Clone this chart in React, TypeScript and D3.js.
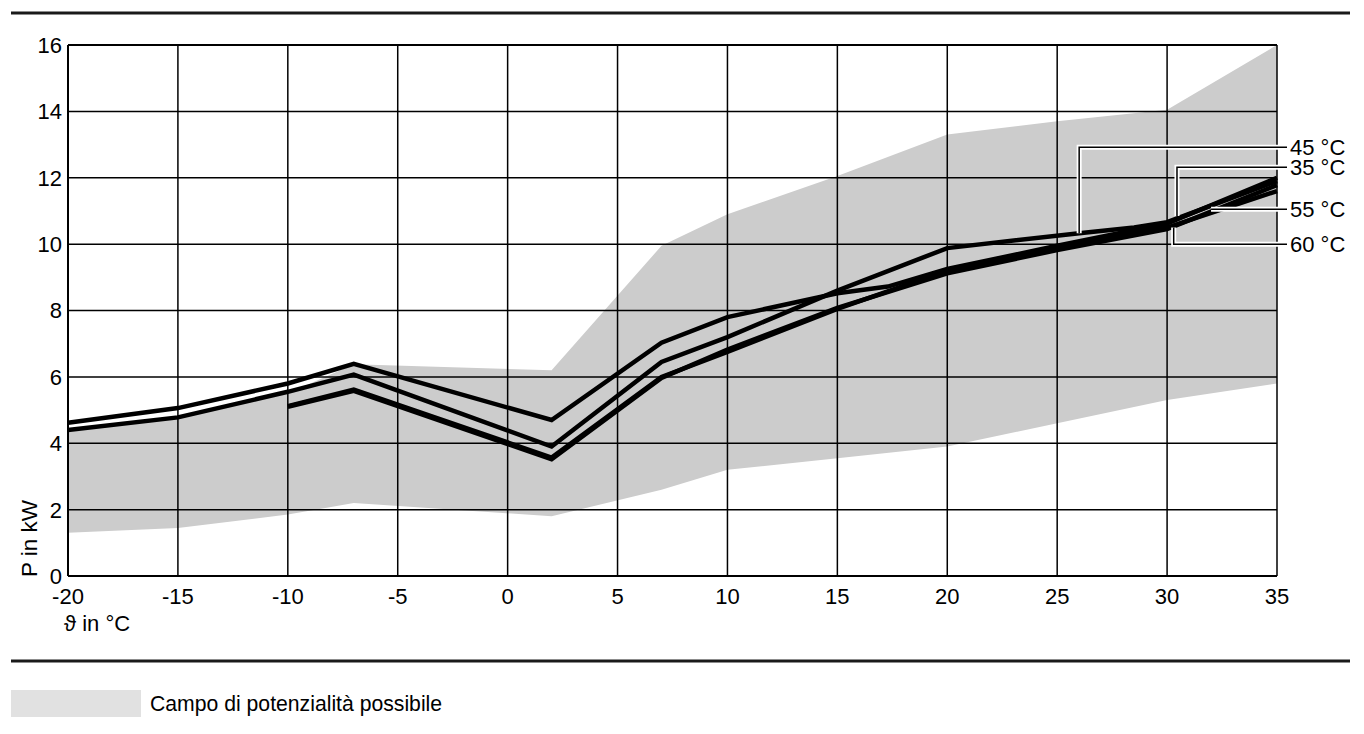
import React from "react";
import * as d3 from "d3";

const xTicks = [-20, -15, -10, -5, 0, 5, 10, 15, 20, 25, 30, 35];
const yTicks = [0, 2, 4, 6, 8, 10, 12, 14, 16];

// Possible output range (grey band)
const bandUpper: [number, number][] = [
  [-20, 4.35], [-15, 4.75], [-10, 5.5], [-7, 6.38], [2, 6.2], [7, 9.95],
  [10, 10.9], [15, 12.05], [20, 13.3], [25, 13.7], [30, 14.05], [35, 16.0],
];
const bandLower: [number, number][] = [
  [-20, 1.3], [-15, 1.45], [-10, 1.85], [-7, 2.2], [2, 1.8], [7, 2.6],
  [10, 3.2], [15, 3.55], [20, 3.9], [25, 4.6], [30, 5.3], [35, 5.8],
];

// Curves per flow temperature
const curve35: [number, number][] = [
  [-20, 4.62], [-15, 5.06], [-10, 5.8], [-7, 6.39], [2, 4.7], [7, 7.03],
  [10, 7.8], [15, 8.52], [17.3, 8.72], [20, 9.25], [25, 9.95], [30, 10.62], [35, 12.0],
];
const curve45: [number, number][] = [
  [-20, 4.4], [-15, 4.78], [-10, 5.55], [-7, 6.07], [2, 3.9], [7, 6.45],
  [10, 7.2], [15, 8.6], [20, 9.88], [26, 10.33], [28.5, 10.5], [30, 10.66], [35, 11.9],
];
const curve55: [number, number][] = [
  [-10, 5.12], [-7, 5.62], [2, 3.57], [7, 6.0], [10, 6.75], [15, 8.05],
  [20, 9.2], [25, 9.88], [30, 10.5], [35, 11.6],
];
const curve60: [number, number][] = [
  [-10, 5.1], [-7, 5.58], [2, 3.52], [7, 5.97], [10, 6.82], [15, 8.08],
  [20, 9.12], [25, 9.82], [30, 10.45], [35, 11.78],
];
const curves = [curve35, curve45, curve55, curve60];

// Curve labels
const labelNames = ["45 °C", "35 °C", "55 °C", "60 °C"];
const labelY = [12.92, 12.32, 11.05, 10.0];
const anchorX = [26.0, 30.45, 32.0, 30.3];
const anchorY = [10.33, 10.85, 11.05, 10.5];

const xTitle = "ϑ in °C";
const yTitle = "P in kW";
const legendText = "Campo di potenzialità possibile";

const FONT = "Arial, 'Liberation Sans', Helvetica, sans-serif";

export default function App() {
  const W = 1364;
  const H = 734;
  const x = d3.scaleLinear().domain([-20, 35]).range([68, 1277]);
  const y = d3.scaleLinear().domain([0, 16]).range([576, 45]);

  const line = d3
    .line<[number, number]>()
    .x((d) => x(d[0]))
    .y((d) => y(d[1]));

  const bandPts = [...bandUpper, ...bandLower.slice().reverse()];
  const bandPath = line(bandPts) + "Z";

  const leaderEnd = x(35) + 10;
  const labelX = x(35) + 13;

  const leaders = labelNames.map((name, i) => {
    const ax = x(anchorX[i]);
    const ay = y(anchorY[i]);
    const ly = y(labelY[i]);
    const d =
      Math.abs(ay - ly) < 2
        ? `M${ax},${ly}H${leaderEnd}`
        : `M${ax},${ay}V${ly}H${leaderEnd}`;
    return { name, d, ly };
  });

  return (
    <svg
      width={W}
      height={H}
      style={{ position: "absolute", left: 0, top: 0, background: "#fff" }}
      fontFamily={FONT}
    >
      {/* top and bottom rules */}
      <line x1={11} x2={1350} y1={13} y2={13} stroke="#1a1a1a" strokeWidth={3} />
      <line x1={11} x2={1350} y1={661} y2={661} stroke="#1a1a1a" strokeWidth={3} />

      {/* band */}
      <path d={bandPath} fill="#cccccc" stroke="none" />

      {/* grid */}
      {xTicks.map((t) => (
        <line
          key={"gx" + t}
          x1={x(t)}
          x2={x(t)}
          y1={y(16)}
          y2={y(0)}
          stroke="#000"
          strokeWidth={t === -20 ? 2 : 1.5}
        />
      ))}
      {yTicks.map((t) => (
        <line
          key={"gy" + t}
          x1={x(-20)}
          x2={x(35)}
          y1={y(t)}
          y2={y(t)}
          stroke="#000"
          strokeWidth={t === 0 || t === 16 ? 2 : 1.5}
        />
      ))}

      {/* curves */}
      {curves.map((c, i) => (
        <path
          key={"c" + i}
          d={line(c) || ""}
          fill="none"
          stroke="#000"
          strokeWidth={4.5}
          strokeLinejoin="miter"
        />
      ))}

      {/* leaders */}
      {leaders.map((l, i) => (
        <g key={"l" + i}>
          <path d={l.d} fill="none" stroke="#fff" strokeWidth={5} />
          <path d={l.d} fill="none" stroke="#000" strokeWidth={1.5} />
          <text x={labelX} y={l.ly} dy="0.36em" fontSize={22} fill="#000">
            {l.name}
          </text>
        </g>
      ))}

      {/* tick labels */}
      {xTicks.map((t) => (
        <text
          key={"tx" + t}
          x={x(t)}
          y={604}
          textAnchor="middle"
          fontSize={22}
          fill="#000"
        >
          {t}
        </text>
      ))}
      {yTicks.map((t) => (
        <text
          key={"ty" + t}
          x={62}
          y={y(t)}
          dy="0.36em"
          textAnchor="end"
          fontSize={22}
          fill="#000"
        >
          {t}
        </text>
      ))}

      {/* axis titles */}
      <text x={64} y={631} fontSize={22} fill="#000">
        {xTitle}
      </text>
      <text
        transform="translate(37,577) rotate(-90)"
        fontSize={22.5}
        fill="#000"
      >
        {yTitle}
      </text>

      {/* legend */}
      <rect x={11} y={690} width={130} height={27} fill="#e1e1e1" />
      <text x={150} y={711} fontSize={21.2} fill="#000">
        {legendText}
      </text>
    </svg>
  );
}
